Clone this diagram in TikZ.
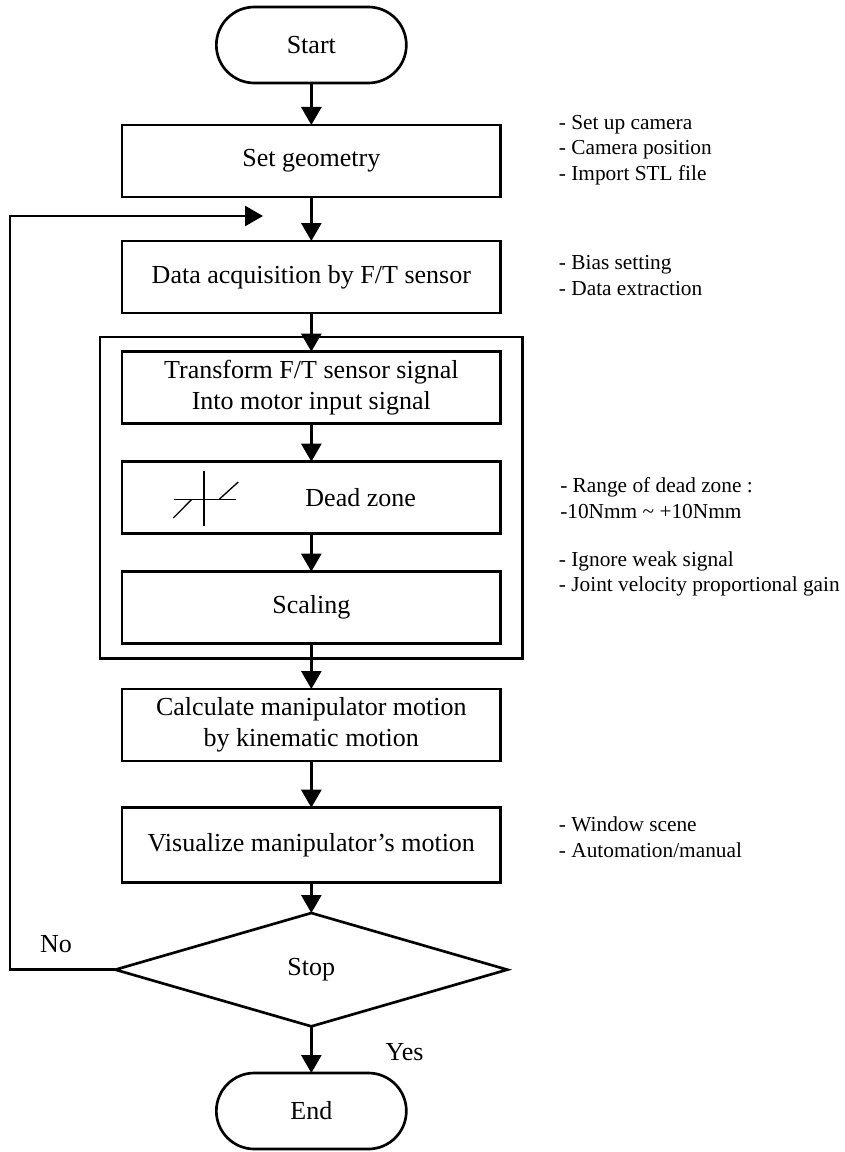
\documentclass[tikz,border=0pt]{standalone}
\usepackage{fontspec}
\setmainfont{Liberation Serif}
\usetikzlibrary{shapes,arrows.meta,positioning,fit}

\begin{document}
\begin{tikzpicture}[node distance=29pt]
    % Define styles
    \tikzstyle{startstop} = [rectangle, rounded corners=28.5pt, minimum width=142.5pt, minimum height=57pt, outer sep=0pt, align=center, draw=black, line width=2pt, font=\fontsize{19.5}{23.5}\selectfont]
    \tikzstyle{process} = [rectangle, minimum width=284pt, minimum height=54pt, outer sep=0pt, align=center, draw=black, line width=2pt, font=\fontsize{19.5}{23.5}\selectfont]
    \tikzstyle{decision} = [diamond, minimum width=294pt, minimum height=85pt, inner sep=0pt, outer sep=0pt, draw=black, line width=2pt, font=\fontsize{19.5}{23.5}\selectfont]
    \tikzstyle{note} = [anchor=west, align=left, inner xsep=0pt, font=\fontsize{16}{19.2}\selectfont]
    \tikzstyle{answer} = [font=\fontsize{19.5}{23.5}\selectfont]
    \tikzstyle{arrow} = [line width=2pt, -{Triangle[length=13.5pt, width=15pt]}]

    \useasboundingbox (0,0) rectangle (633.75pt,-864pt);

    % Nodes
    \node (start) [startstop] at (233.5pt,-33.75pt) {Start};
    \node (geometry) [process, below=31.5pt of start] {Set geometry};
    \node (acquire) [process, below=33pt of geometry] {Data acquisition by F/T sensor};
    \node (transform) [process, below=of acquire] {Transform F/T sensor signal\\Into motor input signal};
    \node (dead) [process, below=28.5pt of transform] {\hspace*{74pt}Dead zone};
    \node (scaling) [process, below=28.5pt of dead] {Scaling};
    \node (calc) [process, below=34pt of scaling] {Calculate manipulator motion\\by kinematic motion};
    \node (visual) [process, minimum height=56pt, below=35pt of calc] {Visualize manipulator’s motion};
    \node (stop) [decision, below=23pt of visual] {Stop};
    \node (end) [startstop, below=35pt of stop] {End};

    % Frame round the signal blocks
    \node (frame) [draw=black, line width=2pt, inner xsep=16.5pt, inner ysep=11pt, fit=(transform)(scaling)] {};

    % Dead zone symbol
    \begin{scope}[shift={(dead.center)}, line width=1pt]
        \draw (-80.4pt,20.1pt) -- (-80.4pt,-21.4pt);
        \draw (-103.1pt,-1.5pt) -- (-56.6pt,-1.5pt);
        \draw (-103.5pt,-15.2pt) -- (-89.9pt,-1.5pt);
        \draw (-69.4pt,-1.5pt) -- (-54.75pt,11.8pt);
    \end{scope}

    % Side notes
    \node (geonote) [note] at (419pt,-112.5pt) {- Set up camera\\- Camera position\\- Import STL file};
    \node (acqnote) [note] at (419pt,-206.6pt) {- Bias setting\\- Data extraction};
    \node (deadnote) [note] at (420pt,-373.5pt) {- Range of dead zone :\\-10Nmm \textasciitilde{} +10Nmm};
    \node (scalenote) [note] at (419pt,-430.5pt) {- Ignore weak signal\\- Joint velocity proportional gain};
    \node (visnote) [note] at (419pt,-627.75pt) {- Window scene\\- Automation/manual};

    \node (no) [answer] at (42pt,-708.4pt) {No};
    \node (yes) [answer] at (303.4pt,-789pt) {Yes};

    % Arrows
    \draw [arrow] (start) -- (geometry);
    \draw [arrow] (geometry) -- (acquire);
    \draw [arrow] (acquire) -- (transform);
    \draw [arrow] (transform) -- (dead);
    \draw [arrow] (dead) -- (scaling);
    \draw [arrow] (scaling) -- (calc);
    \draw [arrow] (calc) -- (visual);
    \draw [arrow] (visual) -- (stop);
    \draw [arrow] (stop) -- (end);

    % Loop back when not stopped
    \coordinate (loopleft) at (7.5pt,-162pt);
    \coordinate (loopend) at (197.25pt,-162pt);
    \draw [arrow] (stop.west) -| (loopleft) -- (loopend);
\end{tikzpicture}
\end{document}
